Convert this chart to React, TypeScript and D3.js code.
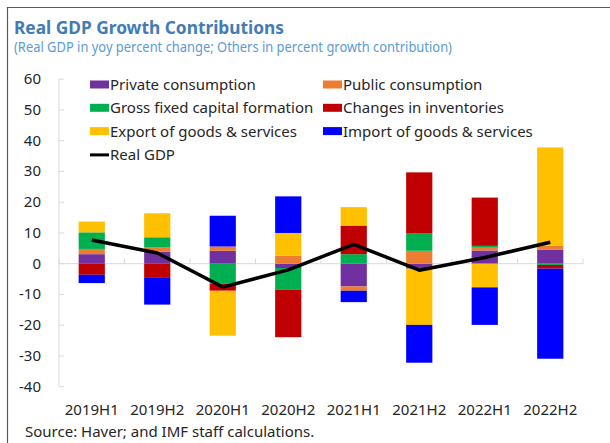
import React from "react";
import * as d3 from "d3";

const categories = ["2019H1", "2019H2", "2020H1", "2020H2", "2021H1", "2021H2", "2022H1", "2022H2"];
const seriesNames = [
  "Private consumption",
  "Public consumption",
  "Gross fixed capital formation",
  "Changes in inventories",
  "Export of goods & services",
  "Import of goods & services",
];
const seriesColors = ["#7030a0", "#ed7d31", "#00b050", "#c00000", "#ffc000", "#0000ff"];
const privateConsumption = [3.1, 3.9, 4.2, -1.4, -7.4, -1.6, 4.3, 4.6];
const publicConsumption = [1.7, 1.5, 1.4, 2.6, -1.4, 4.2, 0.9, 1.3];
const gfcf = [5.4, 3.2, -6.5, -7.0, 3.1, 5.6, 0.6, -0.4];
const inventories = [-3.6, -4.4, -2.3, -15.5, 9.3, 19.9, 15.7, -1.2];
const exportsGS = [3.5, 7.8, -14.6, 7.4, 6.0, -18.3, -7.7, 31.9];
const importsGS = [-2.7, -8.9, 10.0, 11.9, -3.7, -12.3, -12.2, -29.3];
const realGDP = [7.7, 3.5, -7.6, -2.0, 6.3, -2.1, 2.0, 7.0];
const yTicks = [-40, -30, -20, -10, 0, 10, 20, 30, 40, 50, 60];

const seriesValues = [privateConsumption, publicConsumption, gfcf, inventories, exportsGS, importsGS];

export default function App() {
  const left = 59, right = 583, top = 79.2, bottom = 386.7;
  const x = d3.scaleBand<string>().domain(categories).range([left, right]).paddingInner(0.6).paddingOuter(0.3);
  const y = d3.scaleLinear().domain([-40, 60]).range([bottom, top]);
  const step = (right - left) / categories.length;

  const rows = categories.map((c, i) => {
    const r: any = { cat: c };
    seriesNames.forEach((s, j) => (r[s] = seriesValues[j][i]));
    return r;
  });
  const stacked = d3.stack<any>().keys(seriesNames).offset(d3.stackOffsetDiverging)(rows);

  const line = d3
    .line<number>()
    .x((_, i) => (x(categories[i]) as number) + x.bandwidth() / 2)
    .y((d) => y(d));

  const font = "'Segoe UI', 'Noto Sans', 'Open Sans', sans-serif";
  const textColor = "#262626";
  const axisColor = "#d9d9d9";

  const legendItems = [
    { name: seriesNames[0], color: seriesColors[0], col: 0, row: 0 },
    { name: seriesNames[1], color: seriesColors[1], col: 1, row: 0 },
    { name: seriesNames[2], color: seriesColors[2], col: 0, row: 1 },
    { name: seriesNames[3], color: seriesColors[3], col: 1, row: 1 },
    { name: seriesNames[4], color: seriesColors[4], col: 0, row: 2 },
    { name: seriesNames[5], color: seriesColors[5], col: 1, row: 2 },
  ];
  const legX = [90, 323];
  const legY = (r: number) => 85 + r * 23.3;

  return (
    <svg
      width={610}
      height={443}
      style={{ position: "absolute", left: 0, top: 0, background: "#fff" }}
      fontFamily={font}
    >
      <rect x={0} y={0} width={610} height={443} fill="#fff" />
      <path d="M7.5,443 V7.5 H610" fill="none" stroke="#595959" strokeWidth={1.2} />
      <text x={14} y={34} fontSize={17} fontWeight={700} fill="#427bb5" textLength={270} lengthAdjust="spacingAndGlyphs">
        Real GDP Growth Contributions
      </text>
      <text x={14} y={52} fontSize={13.5} fill="#5b9bd5" textLength={438} lengthAdjust="spacingAndGlyphs">
        (Real GDP in yoy percent change; Others in percent growth contribution)
      </text>

      {/* y axis */}
      <line x1={left} x2={left} y1={top} y2={bottom} stroke={axisColor} />
      {yTicks.map((t) => (
        <g key={t}>
          <line x1={left} x2={left + 5} y1={y(t)} y2={y(t)} stroke={axisColor} />
          <text x={41} y={y(t) + 5} fontSize={15} textAnchor="end" fill={textColor}>
            {t}
          </text>
        </g>
      ))}

      {/* x axis at zero */}
      <line x1={left} x2={right} y1={y(0)} y2={y(0)} stroke={axisColor} />
      {d3.range(categories.length + 1).map((i) => (
        <line key={i} x1={left + i * step} x2={left + i * step} y1={y(0)} y2={y(0) - 5} stroke={axisColor} />
      ))}

      {/* bars */}
      {stacked.map((s, j) => (
        <g key={s.key} fill={seriesColors[j]}>
          {s.map((d, i) => {
            const y0 = y(d[0]), y1 = y(d[1]);
            return (
              <rect
                key={i}
                x={x(categories[i])}
                width={x.bandwidth()}
                y={Math.min(y0, y1)}
                height={Math.abs(y0 - y1)}
              />
            );
          })}
        </g>
      ))}

      {/* real GDP line */}
      <path d={line(realGDP) || ""} fill="none" stroke="#000" strokeWidth={3.5} strokeLinejoin="round" />

      {/* x labels */}
      {categories.map((c) => (
        <text
          key={c}
          x={(x(c) as number) + x.bandwidth() / 2}
          y={415}
          fontSize={15}
          textAnchor="middle"
          fill={textColor}
        >
          {c}
        </text>
      ))}

      {/* legend */}
      {legendItems.map((it) => (
        <g key={it.name}>
          <rect x={legX[it.col]} y={legY(it.row) - 4.5} width={19} height={8} fill={it.color} />
          <text x={legX[it.col] + 20} y={legY(it.row) + 5} fontSize={15} fill={textColor}>
            {it.name}
          </text>
        </g>
      ))}
      <line x1={90} x2={109} y1={legY(3)} y2={legY(3)} stroke="#000" strokeWidth={3} />
      <text x={110} y={legY(3) + 5} fontSize={15} fill={textColor}>
        Real GDP
      </text>

      <text x={25} y={437} fontSize={15} fill={textColor}>
        Source: Haver; and IMF staff calculations.
      </text>
    </svg>
  );
}
